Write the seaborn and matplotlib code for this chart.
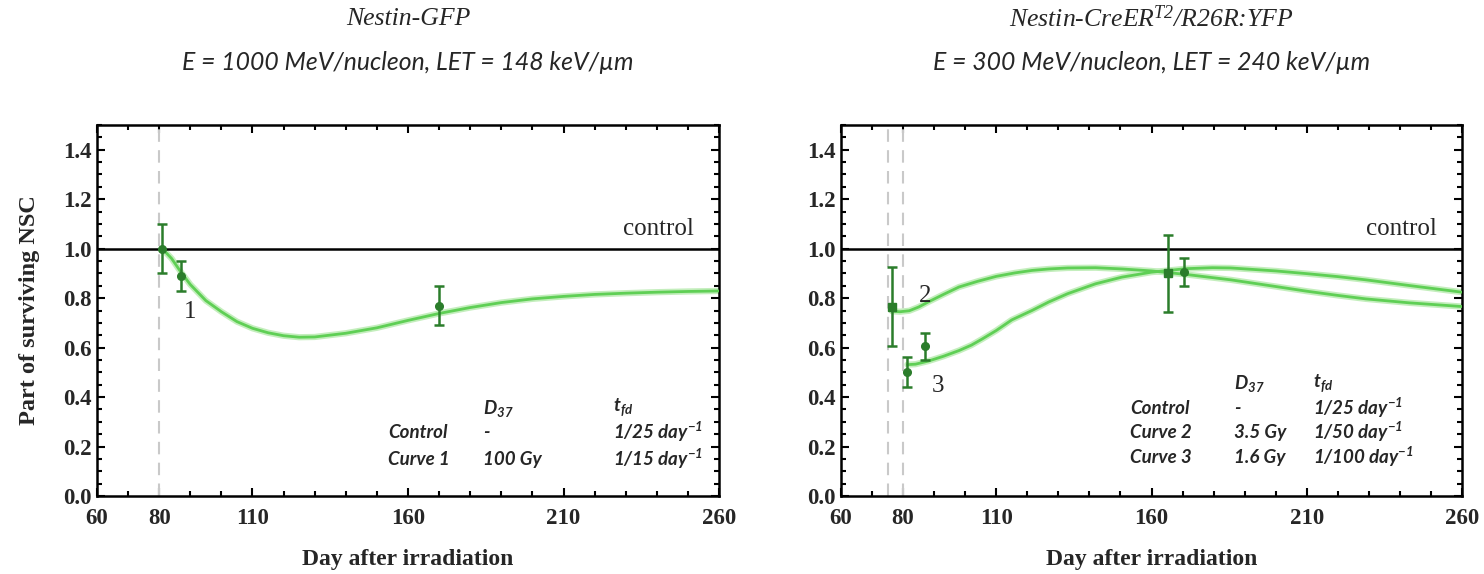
import numpy as np
import pandas as pd
import seaborn as sns
import matplotlib
matplotlib.use("Agg")
import matplotlib.pyplot as plt
from matplotlib.ticker import MultipleLocator, FixedLocator

# ---------------- data ----------------
# Left panel: Nestin-GFP
left_pts_x = [81, 87, 170]
left_pts_y = [1.00, 0.89, 0.77]
left_pts_err = [0.10, 0.06, 0.08]

curve1_x = [81, 84, 87, 90, 95, 100, 105, 110, 115, 120, 125, 130, 140, 150,
            160, 170, 180, 190, 200, 210, 220, 230, 240, 250, 260]
curve1_y = [1.00, 0.96, 0.905, 0.855, 0.79, 0.745, 0.705, 0.678, 0.66, 0.648,
            0.642, 0.643, 0.658, 0.68, 0.71, 0.738, 0.762, 0.782, 0.797, 0.807,
            0.815, 0.82, 0.824, 0.827, 0.829]

# Right panel: Nestin-CreER/R26R:YFP
sq_x = [76.4, 165.3]
sq_y = [0.766, 0.90]
sq_err = [0.16, 0.155]
circ_x = [81.4, 87.2, 170.4]
circ_y = [0.50, 0.605, 0.905]
circ_err = [0.06, 0.055, 0.056]

curve2_x = [76.4, 79, 82, 85, 88, 93, 98, 104, 110, 116, 121.5, 127, 133,
            142, 150.5, 160, 171, 185.5, 200, 210, 220, 229, 243, 260]
curve2_y = [0.747, 0.745, 0.749, 0.764, 0.784, 0.815, 0.845, 0.868, 0.888,
            0.902, 0.912, 0.918, 0.922, 0.923, 0.918, 0.91, 0.896, 0.874,
            0.847, 0.828, 0.811, 0.797, 0.781, 0.766]

curve3_x = [81.4, 84, 88, 93, 98, 102, 105.5, 110, 115, 121.5, 127, 133, 142,
            150.5, 160, 171, 179.6, 185.5, 200, 210, 220, 229, 243, 260]
curve3_y = [0.531, 0.533, 0.545, 0.565, 0.588, 0.61, 0.635, 0.669, 0.712,
            0.75, 0.785, 0.818, 0.858, 0.885, 0.905, 0.919, 0.923, 0.922,
            0.91, 0.899, 0.887, 0.874, 0.851, 0.824]

x_ticklabels = [60, 80, 110, 160, 210, 260]
y_ticklabels = [0.0, 0.2, 0.4, 0.6, 0.8, 1.0, 1.2, 1.4]

titles1 = ["Nestin-GFP", "Nestin-CreER$\\mathregular{^{T2}}$/R26R:YFP"]
titles2 = ["E = 1000 MeV/nucleon, LET = 148 keV/\u00b5m",
           "E = 300 MeV/nucleon, LET = 240 keV/\u00b5m"]

table_left = [["", "D$\\mathregular{_{37}}$", "t$\\mathregular{_{fd}}$"],
              ["Control", "-", "1/25 day$\\mathregular{^{-1}}$"],
              ["Curve 1", "100 Gy", "1/15 day$\\mathregular{^{-1}}$"]]
table_right = [["", "D$\\mathregular{_{37}}$", "t$\\mathregular{_{fd}}$"],
               ["Control", "-", "1/25 day$\\mathregular{^{-1}}$"],
               ["Curve 2", "3.5 Gy", "1/50 day$\\mathregular{^{-1}}$"],
               ["Curve 3", "1.6 Gy", "1/100 day$\\mathregular{^{-1}}$"]]

# ---------------- style ----------------
sns.set_theme(style="ticks")
plt.rcParams['font.family'] = ['Liberation Serif', 'DejaVu Serif']
plt.rcParams['mathtext.fontset'] = 'custom'

CURVE = "#5fcf55"
GLOW = "#c4eebd"
POINT = "#2b7d2b"
GRAY = "#c9c9c9"

fig = plt.figure(figsize=(14.84, 5.74), dpi=100)
axL = fig.add_axes([97/1484, 78/574, 622/1484, 371/574])
axR = fig.add_axes([841/1484, 78/574, 621/1484, 371/574])

serif_bold = dict(family='Liberation Serif', weight='bold')
sans_bi = dict(family='Lato', weight='bold', style='italic')


def draw_curve(ax, xs, ys):
    df = pd.DataFrame({"day": xs, "val": ys})
    sns.lineplot(data=df, x="day", y="val", ax=ax, color=GLOW, lw=4.5,
                 zorder=2, legend=False)
    sns.lineplot(data=df, x="day", y="val", ax=ax, color=CURVE, lw=2.0,
                 zorder=3, legend=False)


def style_ax(ax):
    ax.set_xlim(60, 260)
    ax.set_ylim(0, 1.5)
    ax.xaxis.set_major_locator(FixedLocator(x_ticklabels))
    ax.xaxis.set_minor_locator(MultipleLocator(10))
    ax.yaxis.set_major_locator(FixedLocator(y_ticklabels))
    ax.yaxis.set_minor_locator(MultipleLocator(0.05))
    ax.set_xticklabels([str(v) for v in x_ticklabels])
    ax.set_yticklabels([f"{v:.1f}" for v in y_ticklabels])
    ax.tick_params(which='both', direction='in', top=True, right=True,
                   width=1.5, color='black')
    ax.tick_params(which='major', length=6, labelsize=16.5)
    ax.tick_params(axis='x', which='major', pad=9)
    ax.tick_params(axis='y', which='major', pad=4)
    ax.tick_params(which='minor', length=3.5)
    for lab in ax.get_xticklabels() + ax.get_yticklabels():
        lab.set_fontweight('bold')
        lab.set_family('Liberation Serif')
    for sp in ax.spines.values():
        sp.set_linewidth(1.8)
        sp.set_color('black')
    ax.axhline(1.0, color='black', lw=1.8, zorder=4)
    ax.set_xlabel("Day after irradiation", fontsize=17, **serif_bold)
    ax.xaxis.label.set_va('center')
    ax.xaxis.set_label_coords(0.5, -64/371)
    ax.set_ylabel("")


# ---------------- left panel ----------------
axL.axvline(80, color=GRAY, lw=1.5, ls=(0, (6, 4)), zorder=1)
draw_curve(axL, curve1_x, curve1_y)
axL.errorbar(left_pts_x, left_pts_y, yerr=left_pts_err, fmt='o', ms=5.5,
             color=POINT, ecolor=POINT, elinewidth=1.8, capsize=3.5,
             capthick=1.8, zorder=5)
style_ax(axL)
axL.set_ylabel("Part of surviving NSC", fontsize=17.5, **serif_bold)
axL.yaxis.label.set_va('center')
axL.yaxis.label.set_ha('center')
axL.yaxis.set_label_coords(-67/622, 0.5)
axL.text(252, 1.08, "control", fontsize=18, ha='right', va='center',
         family='Liberation Serif')
axL.text(89.9, 0.742, "1", fontsize=18, ha='center', va='center',
         family='Liberation Serif')

# ---------------- right panel ----------------
axR.axvline(75, color=GRAY, lw=1.5, ls=(0, (6, 4)), zorder=1)
axR.axvline(80, color=GRAY, lw=1.5, ls=(0, (6, 4)), zorder=1)
draw_curve(axR, curve2_x, curve2_y)
draw_curve(axR, curve3_x, curve3_y)
axR.errorbar(sq_x, sq_y, yerr=sq_err, fmt='s', ms=6, color=POINT,
             ecolor=POINT, elinewidth=1.8, capsize=3.5, capthick=1.8, zorder=5)
axR.errorbar(circ_x, circ_y, yerr=circ_err, fmt='o', ms=5.5, color=POINT,
             ecolor=POINT, elinewidth=1.8, capsize=3.5, capthick=1.8, zorder=5)
style_ax(axR)
axR.text(252, 1.08, "control", fontsize=18, ha='right', va='center',
         family='Liberation Serif')
axR.text(87.1, 0.81, "2", fontsize=18, ha='center', va='center',
         family='Liberation Serif')
axR.text(91.2, 0.444, "3", fontsize=18, ha='center', va='center',
         family='Liberation Serif')

# ---------------- tables ----------------
def draw_table(ax, rows, col_x, row_y):
    for r, row in enumerate(rows):
        for c, txt in enumerate(row):
            if txt:
                ax.text(col_x[c], row_y[r], txt, fontsize=13.5,
                        ha='left', va='center', **sans_bi)

draw_table(axL, table_left, [153.6, 184, 226], [0.355, 0.258, 0.149])
draw_table(axR, table_right, [153.2, 186.7, 212], [0.456, 0.355, 0.258, 0.157])

# ---------------- titles ----------------
for ax, t1, t2 in [(axL, titles1[0], titles2[0]), (axR, titles1[1], titles2[1])]:
    pos = ax.get_position()
    cx = (pos.x0 + pos.x1) / 2
    fig.text(cx, 1 - 19/574, t1, ha='center', va='center', fontsize=18.5,
             family='Liberation Serif', style='italic')
    fig.text(cx, 1 - 62/574, t2, ha='center', va='center', fontsize=17.8,
             family='Lato', style='italic')

fig.savefig("out.png", dpi=100)
